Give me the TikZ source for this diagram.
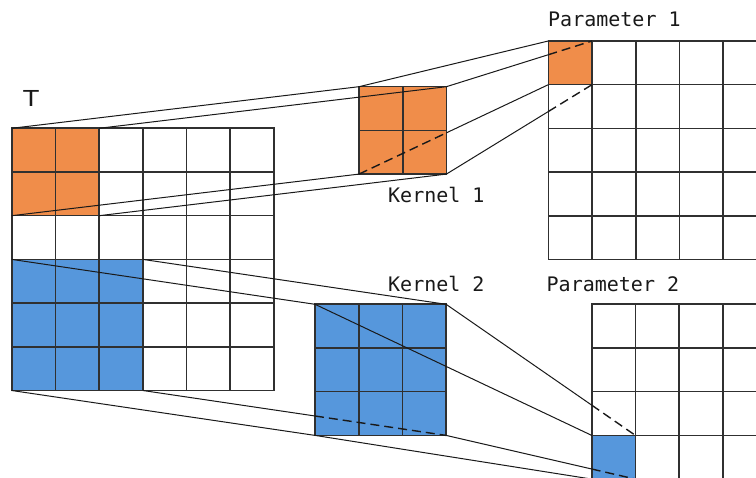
\documentclass[tikz,border=0pt]{standalone}
\usepackage{fontspec}
\setmonofont{DejaVu Sans Mono}
\newfontfamily\labelsans{DejaVu Sans}
\definecolor{korange}{RGB}{240,141,74}
\definecolor{kblue}{RGB}{86,151,220}
\definecolor{inkline}{RGB}{25,25,25}
\tikzset{
  gridline/.style={draw=inkline!90, line width=1.6pt, line cap=rect},
  block/.style={inner sep=0pt, outer sep=0pt, minimum size=#1, draw=none},
  conn/.style={draw=inkline, line width=1pt},
  hidden/.style={draw=inkline, line width=1.4pt, dash pattern=on 9pt off 5pt},
  lbl/.style={inner sep=0pt, text=inkline, font=\ttfamily\fontsize{20}{24}\selectfont},
}
\newcommand\gridcells[4]{%
  \foreach \i in {0,...,#3} \draw[gridline] ({#1+\i*43.7},#2) -- ++(0,{#4*43.7});
  \foreach \j in {0,...,#4} \draw[gridline] (#1,{#2+\j*43.7}) -- ++({#3*43.7},0);
}
\begin{document}
\begin{tikzpicture}[x=1pt,y=-1pt]
\useasboundingbox (0,0) rectangle (756,478);
\clip (0,0) rectangle (756,478);
% coloured blocks
\node[block=87.4pt, fill=korange] (tO) at (55.4,172) {};
\node[block=131.1pt, fill=kblue] (tB) at (77.25,324.95) {};
\node[block=87.4pt, fill=korange] (k1) at (402.7,130.4) {};
\node[block=131.1pt, fill=kblue] (k2) at (380.55,369.85) {};
\node[block=43.7pt, fill=korange] (p1c) at (570.15,62.85) {};
\node[block=43.7pt, fill=kblue] (p2c) at (613.55,457.25) {};
% grids
\gridcells{11.7}{128.3}{6}{6}
\gridcells{359}{86.7}{2}{2}
\gridcells{315}{304.3}{3}{3}
\gridcells{548.3}{41}{5}{5}
\gridcells{591.7}{304.3}{4}{4}
% labels
\node[inner sep=0pt, anchor=base, text=inkline, font=\labelsans\fontsize{22}{26}\selectfont] (lt) at (31,106.7) {\scalebox{1.15}[1]{T}};
\node[lbl, anchor=base west] (lk1) at (388,203) {Kernel 1};
\node[lbl, anchor=base west] (lk2) at (388,291.7) {Kernel 2};
\node[lbl, anchor=base west] (lp1) at (548,26.7) {Parameter 1};
\node[lbl, anchor=base west] (lp2) at (546.5,291.7) {Parameter 2};
% intersection points
\coordinate (x6) at (intersection of k1.north east--p1c.north east and p1c.north west--p1c.south west);
\coordinate (x7) at (intersection of k1.south west--p1c.south west and k1.north east--k1.south east);
\coordinate (x8) at (intersection of k1.south east--p1c.south east and p1c.north west--p1c.south west);
\coordinate (x12) at (intersection of tB.south east--k2.south east and k2.north west--k2.south west);
\coordinate (x14) at (intersection of k2.north east--p2c.north east and p2c.north west--p2c.south west);
\coordinate (x16) at (intersection of k2.south east--p2c.south east and p2c.north west--p2c.south west);
% T -> Kernel 1
\draw[conn] (tO.north west) -- (k1.north west);
\draw[conn] (tO.north east) -- (k1.north east);
\draw[conn] (tO.south west) -- (k1.south west);
\draw[conn] (tO.south east) -- (k1.south east);
% Kernel 1 -> Parameter 1
\draw[conn] (k1.north west) -- (p1c.north west);
\draw[conn] (k1.north east) -- (x6);
\draw[hidden] (x6) -- (p1c.north east);
\draw[hidden] (k1.south west) -- (x7);
\draw[conn] (x7) -- (p1c.south west);
\draw[conn] (k1.south east) -- (x8);
\draw[hidden] (x8) -- (p1c.south east);
% T -> Kernel 2
\draw[conn] (tB.north west) -- (k2.north west);
\draw[conn] (tB.north east) -- (k2.north east);
\draw[conn] (tB.south west) -- (k2.south west);
\draw[conn] (tB.south east) -- (x12);
\draw[hidden] (x12) -- (k2.south east);
% Kernel 2 -> Parameter 2
\draw[conn] (k2.north west) -- (p2c.north west);
\draw[conn] (k2.north east) -- (x14);
\draw[hidden] (x14) -- (p2c.north east);
\draw[conn] (k2.south west) -- (p2c.south west);
\draw[conn] (k2.south east) -- (x16);
\draw[hidden] (x16) -- (p2c.south east);
\end{tikzpicture}
\end{document}
